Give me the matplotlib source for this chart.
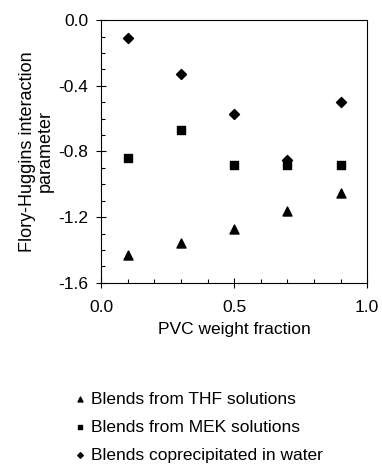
import matplotlib.pyplot as plt
from matplotlib.ticker import MultipleLocator

plt.rcParams['font.family'] = ['Liberation Sans', 'DejaVu Sans']

pvc_fraction = [0.1, 0.3, 0.5, 0.7, 0.9]
chi_thf = [-1.43, -1.36, -1.27, -1.16, -1.05]
chi_mek = [-0.84, -0.67, -0.88, -0.88, -0.88]
chi_water = [-0.11, -0.33, -0.57, -0.85, -0.50]

fig = plt.figure(figsize=(3.82, 4.69), dpi=100)
ax = fig.add_axes([0.265, 0.397, 0.696, 0.560])

ax.scatter(pvc_fraction, chi_thf, marker='^', s=42, color='black', label='Blends from THF solutions')
ax.scatter(pvc_fraction, chi_mek, marker='s', s=36, color='black', label='Blends from MEK solutions')
ax.scatter(pvc_fraction, chi_water, marker='D', s=26, color='black', label='Blends coprecipitated in water')

ax.set_xlim(0, 1.0)
ax.set_ylim(-1.6, 0.0)
ax.set_xticks([0.0, 0.5, 1.0])
ax.set_yticks([0.0, -0.4, -0.8, -1.2, -1.6])
ax.xaxis.set_minor_locator(MultipleLocator(0.1))
ax.yaxis.set_minor_locator(MultipleLocator(0.1))
ax.tick_params(which='both', top=False, right=False, labelsize=12.5, width=0.8)
ax.tick_params(which='major', direction='inout', length=7)
ax.tick_params(which='minor', direction='in', length=3)
ax.tick_params(axis='x', pad=9)
ax.tick_params(axis='y', pad=6)
ax.set_xticklabels(['0.0', '0.5', '1.0'])
ax.set_yticklabels(['0.0', '-0.4', '-0.8', '-1.2', '-1.6'])

ax.set_xlabel('PVC weight fraction', fontsize=12.5, labelpad=5)
ax.set_ylabel('Flory-Huggins interaction\nparameter', fontsize=13, labelpad=3,
              linespacing=1.05)

# legend sits under the plot, small markers
fig.legend(loc='upper left', bbox_to_anchor=(0.17, 0.184), frameon=False,
           fontsize=12.5, markerscale=0.55, handletextpad=0.3, handlelength=0.7,
           labelspacing=0.75, borderpad=0)

plt.savefig('out.png', dpi=100)
